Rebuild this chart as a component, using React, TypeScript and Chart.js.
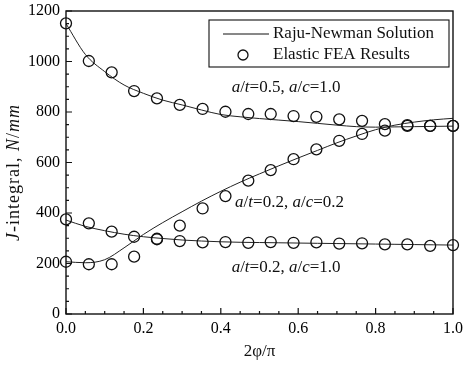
import React, { useEffect, useRef } from 'react';
import { Chart, registerables } from 'chart.js';

Chart.register(...registerables);

// Raju-Newman solution curves, read at 0.05 steps of 2φ/π
const lineX = [0, 0.05, 0.1, 0.15, 0.2, 0.25, 0.3, 0.35, 0.4, 0.45, 0.5, 0.55, 0.6, 0.65, 0.7, 0.75, 0.8, 0.85, 0.9, 0.95, 1.0];
const rnA = [1150, 1028, 960, 907, 874, 847, 828, 808, 790, 781, 774, 768, 762, 755, 748, 742, 740, 741, 742, 743, 744]; // a/t=0.5, a/c=1.0
const rnB = [207, 203, 215, 262, 315, 362, 405, 447, 486, 522, 555, 587, 618, 648, 678, 705, 730, 748, 760, 769, 775]; // rising curve
const rnC = [372, 347, 330, 316, 306, 299, 293, 289, 286, 284, 283, 282, 281, 280, 279, 278, 277, 276, 275, 274, 273]; // flat curve

// Elastic FEA results
const feaX = [0, 0.059, 0.118, 0.176, 0.235, 0.294, 0.353, 0.412, 0.471, 0.529, 0.588, 0.647, 0.706, 0.765, 0.824, 0.882, 0.941, 1.0];
const feaA = [1151, 1002, 957, 883, 854, 828, 812, 801, 792, 792, 784, 781, 771, 765, 752, 748, 745, 745];
const feaB = [207, 197, 197, 227, 298, 350, 418, 467, 528, 570, 613, 652, 686, 713, 726, 745, 745, 745];
const feaC = [375, 359, 326, 306, 296, 289, 284, 285, 282, 285, 282, 284, 279, 280, 276, 276, 270, 273];

const legendLabels = ['Raju-Newman Solution', 'Elastic FEA Results'];
const xTitle = '2\u03C6/\u03C0';

type Seg = { t: string; i?: boolean };
const yTitle: Seg[] = [{ t: 'J', i: true }, { t: '-integral, ' }, { t: 'N', i: true }, { t: '/' }, { t: 'mm', i: true }];
const caseLabels: { segs: Seg[]; x: number; y: number }[] = [
  { segs: [{ t: 'a', i: true }, { t: '/' }, { t: 't', i: true }, { t: '=0.5, ' }, { t: 'a', i: true }, { t: '/' }, { t: 'c', i: true }, { t: '=1.0' }], x: 0.428, y: 895 },
  { segs: [{ t: 'a', i: true }, { t: '/' }, { t: 't', i: true }, { t: '=0.2, ' }, { t: 'a', i: true }, { t: '/' }, { t: 'c', i: true }, { t: '=0.2' }], x: 0.437, y: 440 },
  { segs: [{ t: 'a', i: true }, { t: '/' }, { t: 't', i: true }, { t: '=0.2, ' }, { t: 'a', i: true }, { t: '/' }, { t: 'c', i: true }, { t: '=1.0' }], x: 0.428, y: 186 },
];

const FONT = '"Liberation Serif", "Times New Roman", serif';
const INK = '#111';

function drawRich(ctx: CanvasRenderingContext2D, segs: Seg[], x: number, y: number, size: number, align: 'left' | 'center', spacing = 0) {
  ctx.textAlign = 'left';
  (ctx as any).letterSpacing = `${spacing}px`;
  let total = 0;
  const widths = segs.map((s) => {
    ctx.font = `${s.i ? 'italic ' : ''}${size}px ${FONT}`;
    const w = ctx.measureText(s.t).width;
    total += w;
    return w;
  });
  let cx = align === 'center' ? x - total / 2 : x;
  segs.forEach((s, k) => {
    ctx.font = `${s.i ? 'italic ' : ''}${size}px ${FONT}`;
    ctx.fillText(s.t, cx, y);
    cx += widths[k];
  });
  (ctx as any).letterSpacing = '0px';
}

const decorPlugin = {
  id: 'decor',
  afterDraw(chart: any) {
    const ctx: CanvasRenderingContext2D = chart.ctx;
    const ca = chart.chartArea;
    const xs = chart.scales.x;
    const ys = chart.scales.y;
    ctx.save();
    ctx.strokeStyle = INK;
    ctx.fillStyle = INK;
    // frame
    ctx.lineWidth = 1.4;
    ctx.strokeRect(ca.left, ca.top, ca.right - ca.left, ca.bottom - ca.top);
    // inward ticks
    ctx.lineWidth = 1.2;
    ctx.beginPath();
    for (let k = 0; k <= 20; k++) {
      const v = k * 0.05;
      const px = xs.getPixelForValue(v);
      const len = k % 4 === 0 ? 6 : 3;
      ctx.moveTo(px, ca.bottom);
      ctx.lineTo(px, ca.bottom - len);
    }
    for (let k = 0; k <= 24; k++) {
      const v = k * 50;
      const py = ys.getPixelForValue(v);
      const len = k % 4 === 0 ? 6 : 3;
      ctx.moveTo(ca.left, py);
      ctx.lineTo(ca.left + len, py);
    }
    ctx.stroke();

    // case labels
    ctx.textBaseline = 'middle';
    caseLabels.forEach((c) => {
      drawRich(ctx, c.segs, xs.getPixelForValue(c.x), ys.getPixelForValue(c.y), 17, 'left');
    });

    // legend
    const lx0 = ca.right - 244;
    const ly0 = ca.top + 9;
    const lw = 240;
    const lh = 47;
    ctx.fillStyle = '#fff';
    ctx.fillRect(lx0, ly0, lw, lh);
    ctx.lineWidth = 1.1;
    ctx.strokeRect(lx0, ly0, lw, lh);
    ctx.fillStyle = INK;
    ctx.beginPath();
    ctx.lineWidth = 1;
    ctx.moveTo(lx0 + 14, ly0 + 14);
    ctx.lineTo(lx0 + 60, ly0 + 14);
    ctx.stroke();
    ctx.beginPath();
    ctx.lineWidth = 1.3;
    ctx.arc(lx0 + 34, ly0 + 35, 5, 0, Math.PI * 2);
    ctx.stroke();
    ctx.textAlign = 'left';
    ctx.font = `17px ${FONT}`;
    ctx.fillText(legendLabels[0], lx0 + 64, ly0 + 14);
    ctx.fillText(legendLabels[1], lx0 + 64, ly0 + 35);

    // axis titles
    ctx.textAlign = 'center';
    ctx.font = `17px ${FONT}`;
    ctx.fillText(xTitle, (ca.left + ca.right) / 2, 352);
    ctx.save();
    ctx.translate(14, (ca.top + ca.bottom) / 2 + 10);
    ctx.rotate(-Math.PI / 2);
    drawRich(ctx, yTitle, 0, 0, 18, 'center', 1);
    ctx.restore();
    ctx.restore();
  },
};

export default function App() {
  const ref = useRef<HTMLCanvasElement>(null);
  useEffect(() => {
    const lineDs = (vals: number[]) => ({
      type: 'line' as const,
      data: lineX.map((x, i) => ({ x, y: vals[i] })),
      borderColor: '#222',
      borderWidth: 1,
      pointRadius: 0,
      fill: false,
      cubicInterpolationMode: 'monotone' as const,
      order: 2,
    });
    const feaDs = (vals: number[]) => ({
      type: 'line' as const,
      data: feaX.map((x, i) => ({ x, y: vals[i] })),
      showLine: false,
      pointStyle: 'circle' as const,
      pointRadius: 5.5,
      pointBorderWidth: 1.3,
      pointBorderColor: INK,
      pointBackgroundColor: 'rgba(0,0,0,0)',
      clip: false as any,
      order: 1,
    });
    const tickFont = { family: FONT, size: 16 };
    const chart = new Chart(ref.current as HTMLCanvasElement, {
      type: 'line',
      data: {
        datasets: [lineDs(rnA), lineDs(rnB), lineDs(rnC), feaDs(feaA), feaDs(feaB), feaDs(feaC)] as any,
      },
      options: {
        responsive: false,
        animation: false,
        layout: { padding: { top: 11, right: 11, left: 0, bottom: 0 } },
        plugins: { legend: { display: false }, tooltip: { enabled: false } },
        scales: {
          x: {
            type: 'linear',
            min: 0,
            max: 1,
            afterFit: (s: any) => { s.height = 56; s.paddingLeft = 0; s.paddingRight = 0; },
            grid: { display: false, drawTicks: false },
            border: { display: false },
            ticks: { stepSize: 0.2, color: '#000', font: tickFont, padding: 5, maxRotation: 0, autoSkip: false, callback: (v: any) => Number(v).toFixed(1) },
          },
          y: {
            type: 'linear',
            min: 0,
            max: 1200,
            afterFit: (s: any) => { s.width = 66; s.paddingTop = 0; s.paddingBottom = 0; },
            grid: { display: false, drawTicks: false },
            border: { display: false },
            ticks: { stepSize: 200, color: '#000', font: tickFont, padding: 6, callback: (v: any) => String(v) },
          },
        },
      },
      plugins: [decorPlugin],
    });
    return () => chart.destroy();
  }, []);
  return (
    <div style={{ position: 'absolute', left: 0, top: 0, width: 464, height: 370, background: '#fff' }}>
      <canvas ref={ref} width={464} height={370} style={{ display: 'block', width: 464, height: 370 }} />
    </div>
  );
}
